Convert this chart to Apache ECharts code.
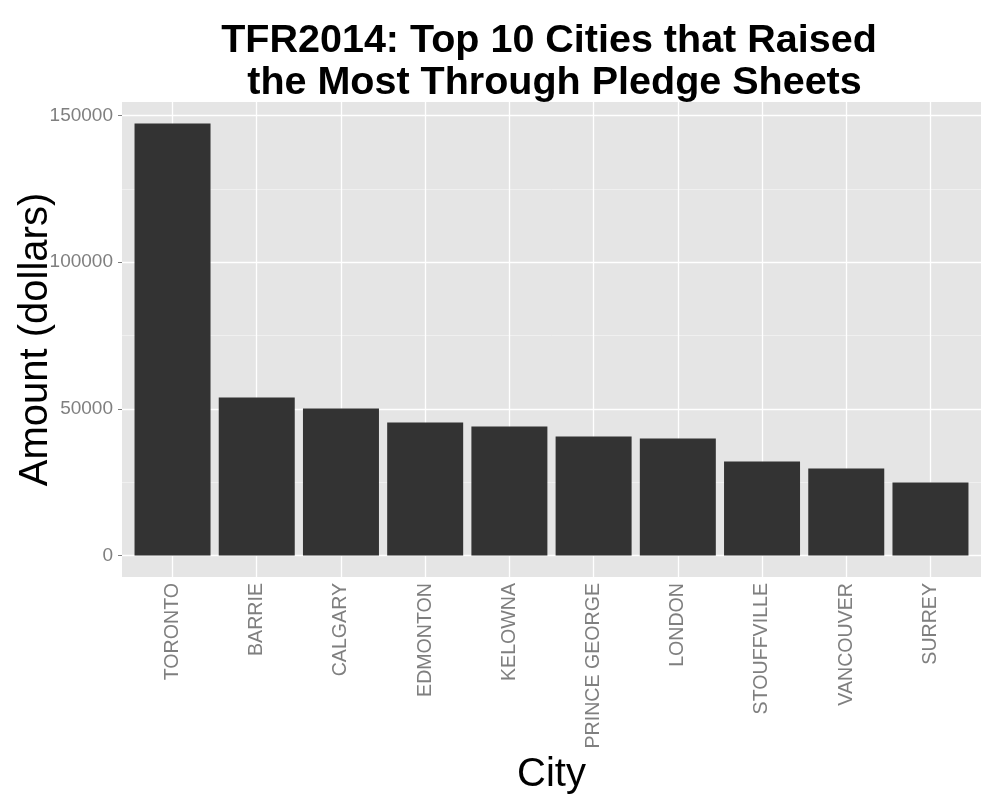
<!DOCTYPE html>
<html>
<head>
<meta charset="utf-8">
<title>TFR2014 pledge sheets</title>
<script src="https://cdn.jsdelivr.net/npm/echarts@6/dist/echarts.min.js"></script>
<style>
  html, body { margin: 0; padding: 0; background: #fff; }
  #chart { width: 1000px; height: 800px; }
</style>
</head>
<body>
<div id="chart"></div>
<script>
// data
var cities = ['TORONTO', 'BARRIE', 'CALGARY', 'EDMONTON', 'KELOWNA',
              'PRINCE GEORGE', 'LONDON', 'STOUFFVILLE', 'VANCOUVER', 'SURREY'];
var amounts = [147240, 53850, 50100, 45330, 43970, 40560, 39880, 32040, 29650, 24880];
var yTicks = [0, 50000, 100000, 150000];
var yMinor = [25000, 75000, 125000];

var positions = cities.map(function (c, i) { return i + 1; });
var barData = cities.map(function (c, i) { return [i + 1, amounts[i]]; });

// ggplot style padding: 5% of the data range on y, 0.6 of a slot on x
var yMax = Math.max.apply(null, amounts);
var yPad = yMax * 0.05;

var axisGrey = '#7F7F7F';
var font = 'Liberation Sans, Arial, sans-serif';

var chart = echarts.init(document.getElementById('chart'));

chart.setOption({
    animation: false,
    backgroundColor: '#ffffff',
    title: {
        text: 'TFR2014: Top 10 Cities that Raised\n the Most Through Pledge Sheets',
        left: 549,
        top: 20,
        padding: 0,
        textAlign: 'center',
        textStyle: {
            fontFamily: font,
            fontWeight: 'bold',
            fontSize: 39.5,
            lineHeight: 42,
            color: '#000'
        }
    },
    grid: {
        left: 122,
        right: 19,
        top: 102,
        bottom: 223,
        containLabel: false,
        outerBoundsMode: 'none',
        show: true,
        backgroundColor: '#E5E5E5',
        borderWidth: 0
    },
    xAxis: {
        type: 'value',
        min: 0.4,
        max: cities.length + 0.6,
        name: 'City',
        nameLocation: 'middle',
        nameGap: 178,
        nameMoveOverlap: false,
        nameTextStyle: { fontFamily: font, fontSize: 40, color: '#000' },
        axisLine: { show: false },
        splitLine: { show: false },
        axisTick: {
            show: true,
            length: 4,
            customValues: positions,
            lineStyle: { color: axisGrey, width: 1 }
        },
        axisLabel: {
            customValues: positions,
            rotate: 90,
            margin: 6,
            fontFamily: font,
            fontSize: 19.6,
            color: axisGrey,
            formatter: function (v) { return cities[Math.round(v) - 1]; }
        }
    },
    yAxis: {
        type: 'value',
        min: -yPad,
        max: yMax + yPad,
        name: 'Amount (dollars)',
        nameLocation: 'middle',
        nameGap: 66,
        nameMoveOverlap: false,
        nameTextStyle: { fontFamily: font, fontSize: 40, color: '#000' },
        axisLine: { show: false },
        splitLine: { show: false },
        axisTick: {
            show: true,
            length: 4,
            customValues: yTicks,
            lineStyle: { color: axisGrey, width: 1 }
        },
        axisLabel: {
            customValues: yTicks,
            margin: 9,
            fontFamily: font,
            fontSize: 19,
            color: axisGrey,
            formatter: function (v) { return String(Math.round(v)); }
        }
    },
    series: [
        {
            // grid lines only, kept under the bars
            type: 'scatter',
            data: [],
            z: 1,
            silent: true,
            markLine: {
                z: 1,
                silent: true,
                symbol: 'none',
                label: { show: false },
                animation: false,
                data: []
                    .concat(yMinor.map(function (v) {
                        return { yAxis: v, lineStyle: { color: '#F2F2F2', width: 0.8, type: 'solid' } };
                    }))
                    .concat(yTicks.map(function (v) {
                        return { yAxis: v, lineStyle: { color: '#FFFFFF', width: 1.3, type: 'solid' } };
                    }))
                    .concat(positions.map(function (v) {
                        return { xAxis: v, lineStyle: { color: '#FFFFFF', width: 1.3, type: 'solid' } };
                    }))
            }
        },
        {
            type: 'bar',
            data: barData,
            z: 3,
            barWidth: 76,
            itemStyle: { color: '#333333' }
        }
    ]
});
</script>
</body>
</html>
